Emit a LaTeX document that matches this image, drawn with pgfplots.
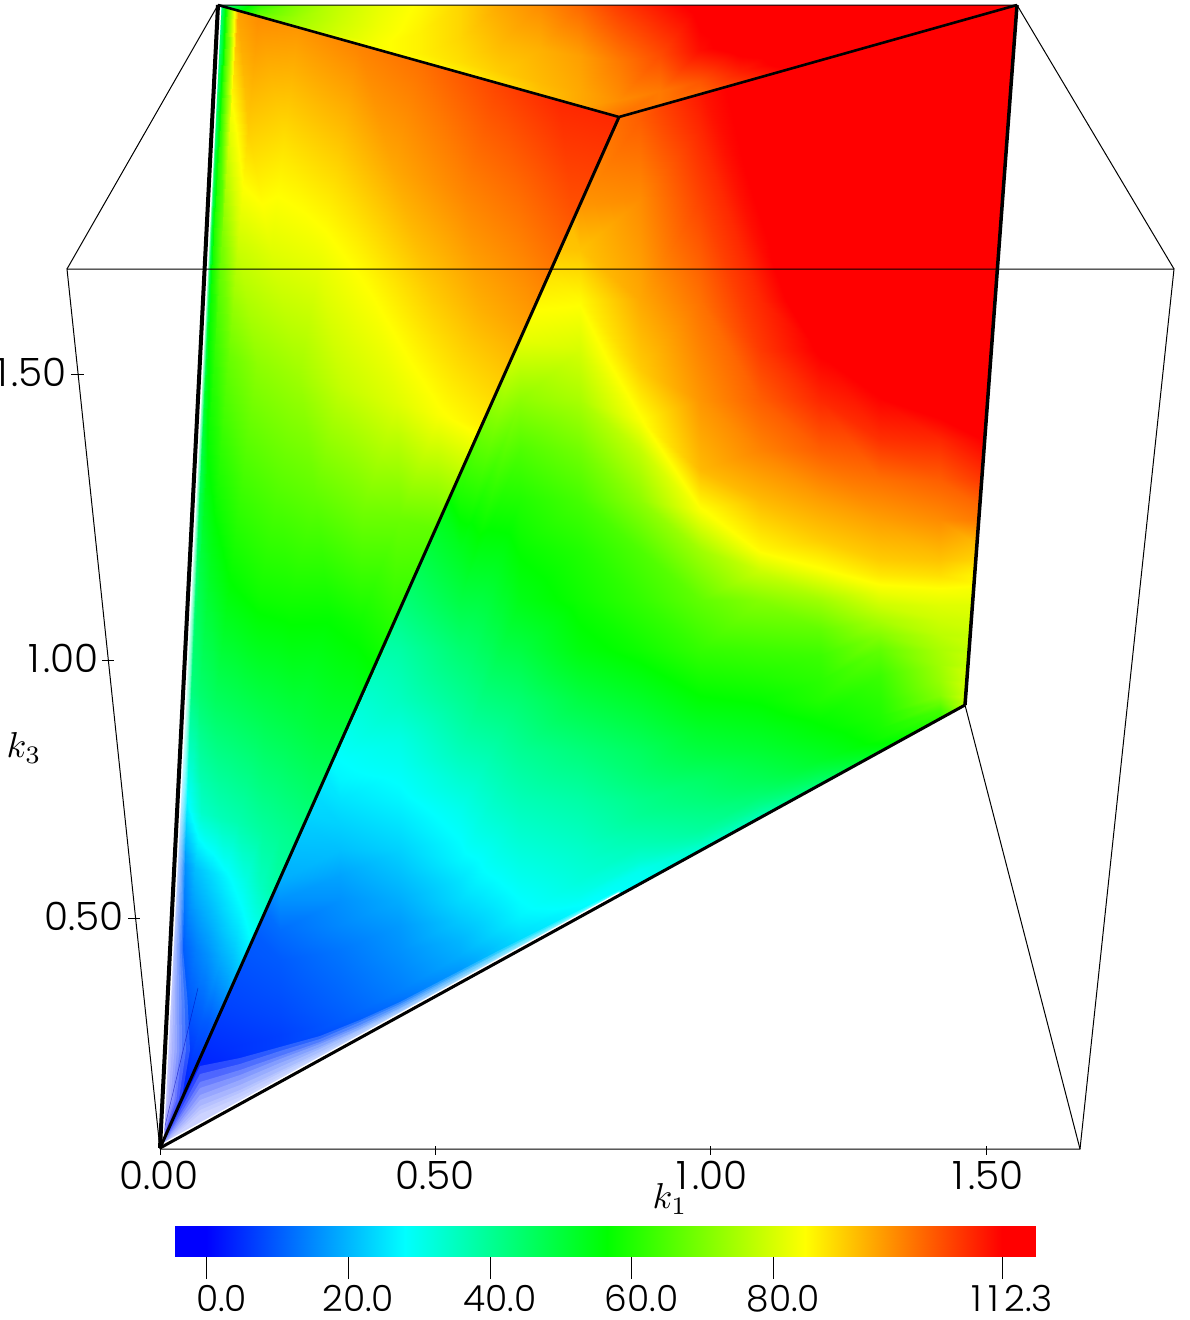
\documentclass[border=0pt]{standalone}
\usepackage{fontspec}
\setmainfont{Poppins Light}
\usepackage{pgfplots}
\usepackage{pgfplotstable}
\pgfplotsset{compat=1.18}
\pgfplotsset{colormap={mapw}{rgb255(0pt)=(255,255,255) rgb255(30pt)=(0,0,255) rgb255(58pt)=(0,255,255) rgb255(86.5pt)=(0,255,0) rgb255(114.5pt)=(255,255,0) rgb255(142.3pt)=(255,0,0) rgb255(150pt)=(255,0,0)}}
\pgfplotstableread{
x y v
160 1150 3
160 1140 3
160 1130 3
160 1120 3
160 1100 3
160 1080 3
160 1060 3
160 1040 4
160 1000 6
160 950 8
160 900 10
160 850 13
160 800 16
160 750 20
160 700 25
160 650 30
160 600 35
160 500 45
160 400 55
160 300 70
160 150 85
160 -5 95
220 1118 4
220 1112 4
220 1105 4
220 1095 4
220 1085 4
220 1070 4
220 1050 5
220 1030 6
220 1010 7
220 950 9
220 900 10
220 850 13
220 800 16
220 750 20
220 700 25
220 650 30
220 600 35
220 500 45
220 400 55
220 300 70
220 150 85
220 -5 95
280 1085 6
280 1079 6
280 1072 6
280 1062 6
280 1055 6
280 1048 7
280 1035 7
280 1015 8
280 990 9
280 960 10
280 930 12
280 900 16
280 880 19
280 800 24
280 750 26
280 700 28
280 650 32
280 600 36
280 500 45
280 400 55
280 300 70
280 -5 95
340 1052 8
340 1046 8
340 1040 8
340 1034 8
340 1029 9
340 1020 10
340 1000 11
340 975 12
340 950 13
340 925 15
340 900 16
340 875 18
340 850 21
340 825 23
340 800 25
340 780 27
340 760 28
340 744 29
340 600 40
340 450 55
340 300 70
340 -5 95
400 1019 12
400 1013 12
400 1007 12
400 1003 12
400 997 13
400 990 14
400 970 15
400 950 16
400 925 17
400 900 19
400 875 21
400 850 23
400 825 25
400 800 27
400 770 29
400 740 31
400 700 35
400 650 38
400 609 42
400 400 58
400 250 75
400 -5 95
460 986 17
460 981 17
460 977 17
460 973 17
460 968 17
460 955 19
460 940 20
460 920 22
460 900 24
460 880 25
460 860 27
460 840 28
460 810 30
460 780 33
460 750 36
460 700 40
460 650 44
460 600 49
460 550 53
460 500 59
460 474 62
460 -5 95
520 953 23
520 947 23
520 940 24
520 930 25
520 915 27
520 900 28
520 875 30
520 850 32
520 825 34
520 800 36
520 750 40
520 700 44
520 650 49
520 600 54
520 550 57
520 500 60
520 450 65
520 400 72
520 339 82
520 250 90
520 100 95
520 -5 98
580 920 26
580 914 27
580 905 28
580 895 30
580 880 32
580 865 33
580 850 34
580 825 36
580 800 38
580 750 43
580 700 49
580 650 55
580 600 58
580 550 60
580 500 64
580 450 69
580 400 75
580 350 80
580 300 85
580 250 91
580 205 96
580 -5 100
640 887 28
640 880 29
640 870 30
640 860 33
640 845 36
640 830 38
640 815 40
640 800 41
640 775 44
640 750 46
640 700 52
640 650 58
640 600 62
640 550 65
640 500 72
640 450 78
640 420 84
640 370 90
640 300 94
640 200 97
640 120 102
640 -5 100
700 854 30
700 846 34
700 838 37
700 830 39
700 815 41
700 800 43
700 780 45
700 755 49
700 730 52
700 700 56
700 675 59
700 650 62
700 600 67
700 550 74
700 510 84
700 470 92
700 400 96
700 300 100
700 200 105
700 130 108
700 90 110
700 -5 112
760 821 34
760 812 38
760 805 41
760 795 44
760 780 47
760 765 49
760 750 51
760 725 54
760 700 57
760 675 60
760 650 63
760 600 71
760 570 79
760 550 85
760 500 92
760 450 98
760 400 102
760 350 106
760 300 108
760 250 111
760 200 113
760 -5 118
820 788 42
820 778 46
820 770 49
820 760 52
820 745 54
820 730 56
820 720 57
820 700 60
820 680 61
820 655 63
820 630 67
820 600 74
820 570 84
820 540 90
820 500 95
820 450 102
820 400 108
820 350 113
820 300 118
820 200 120
820 100 120
820 -5 120
880 755 52
880 745 56
880 738 58
880 728 59
880 715 60
880 700 61
880 675 63
880 650 67
880 635 71
880 620 75
880 605 79
880 590 83
880 575 87
880 560 90
880 520 95
880 480 100
880 440 107
880 400 112
880 350 117
880 250 120
880 100 120
880 -5 120
940 722 60
940 716 62
940 710 64
940 702 68
940 695 71
940 680 73
940 665 74
940 650 75
940 635 77
940 620 79
940 605 81
940 590 84
940 575 88
940 560 91
940 520 97
940 480 102
940 440 108
940 400 116
940 350 118
940 250 120
940 100 120
940 -5 120
1000 730 90
1000 720 90
1000 710 90
1000 700 90
1000 690 88
1000 680 86
1000 665 82
1000 650 80
1000 635 79
1000 620 80
1000 605 81
1000 590 83
1000 575 84
1000 560 88
1000 520 100
1000 480 108
1000 440 114
1000 400 118
1000 350 118
1000 250 120
1000 100 120
1000 -5 120
1060 730 90
1060 720 90
1060 710 90
1060 700 90
1060 690 88
1060 680 86
1060 665 82
1060 650 80
1060 635 79
1060 620 80
1060 605 81
1060 590 83
1060 575 84
1060 560 88
1060 520 100
1060 480 108
1060 440 114
1060 400 118
1060 350 118
1060 250 120
1060 100 120
1060 -5 120
}\rightface
\pgfplotstableread{
t s v
0 0 0
0 0.01 0
0 0.025 0
0 0.05 0
0 0.1 0
0 0.2 0
0 0.35 0
0 0.5 0
0 0.7 0
0 0.85 0
0 1 0
0.03 0 0
0.03 0.01 0
0.03 0.025 0
0.03 0.05 0
0.03 0.1 0
0.03 0.2 0
0.03 0.35 0
0.03 0.5 1
0.03 0.7 1
0.03 0.85 2
0.03 1 2
0.07 0 0
0.07 0.01 0
0.07 0.025 0
0.07 0.05 0
0.07 0.1 1
0.07 0.2 2
0.07 0.35 3
0.07 0.5 4
0.07 0.7 4
0.07 0.85 5
0.07 1 5
0.12 0 1
0.12 0.01 1
0.12 0.025 2
0.12 0.05 3
0.12 0.1 4
0.12 0.2 6
0.12 0.35 8
0.12 0.5 9
0.12 0.7 10
0.12 0.85 10
0.12 1 11
0.18 0 3
0.18 0.01 4
0.18 0.025 5
0.18 0.05 6
0.18 0.1 8
0.18 0.2 11
0.18 0.35 14
0.18 0.5 16
0.18 0.7 19
0.18 0.85 21
0.18 1 24
0.25 0 8
0.25 0.01 9
0.25 0.025 10
0.25 0.05 12
0.25 0.1 16
0.25 0.2 21
0.25 0.35 24
0.25 0.5 27
0.25 0.7 31
0.25 0.85 35
0.25 1 38
0.3 0 12
0.3 0.01 14
0.3 0.025 19
0.3 0.05 24
0.3 0.1 28
0.3 0.2 34
0.3 0.35 36
0.3 0.5 37
0.3 0.7 39
0.3 0.85 40
0.3 1 41
0.4 0 18
0.4 0.01 24
0.4 0.025 36
0.4 0.05 42
0.4 0.1 44
0.4 0.2 46
0.4 0.35 47
0.4 0.5 48
0.4 0.7 49
0.4 0.85 50
0.4 1 50
0.5 0 20
0.5 0.01 30
0.5 0.025 42
0.5 0.05 48
0.5 0.1 52
0.5 0.2 56
0.5 0.35 58
0.5 0.5 58
0.5 0.7 57
0.5 0.85 58
0.5 1 60
0.6 0 22
0.6 0.01 36
0.6 0.025 48
0.6 0.05 56
0.6 0.1 60
0.6 0.2 64
0.6 0.35 66
0.6 0.5 67
0.6 0.7 69
0.6 0.85 68
0.6 1 67
0.7 0 24
0.7 0.01 40
0.7 0.025 56
0.7 0.05 62
0.7 0.1 68
0.7 0.2 72
0.7 0.35 74
0.7 0.5 78
0.7 0.7 81
0.7 0.85 84
0.7 1 86
0.8 0 25
0.8 0.01 45
0.8 0.025 60
0.8 0.05 70
0.8 0.1 79
0.8 0.2 81
0.8 0.35 82
0.8 0.5 85
0.8 0.7 90
0.8 0.85 93
0.8 1 95
0.9 0 25
0.9 0.01 45
0.9 0.025 62
0.9 0.05 82
0.9 0.1 90
0.9 0.2 88
0.9 0.35 90
0.9 0.5 94
0.9 0.7 98
0.9 0.85 100
0.9 1 103
1 0 25
1 0.01 45
1 0.025 66
1 0.05 95
1 0.1 97
1 0.2 96
1 0.35 98
1 0.5 100
1 0.7 105
1 0.85 108
1 1 108
}\leftface
\pgfplotstableread{
x y v
218 5 40
260 5 62
300 5 72
340 5 78
380 5 82
420 5 85
460 5 89
500 5 94
540 5 97
580 5 101
619 5 106
660 5 110
700 5 114
740 5 116
800 5 118
900 5 118
1017 5 118
218 5 40
260 10.8 66
300 16.5 74
340 22 79
380 27.5 83
420 33 86
460 39 89
500 44 92
540 50 93
580 55.5 95
619 61 99
660 55 104
700 49.5 111
740 44 115
800 35.5 118
900 21.5 118
1017 5 118
218 5 40
260 15 68
300 24.6 75
340 34 80
380 43 84
420 52.6 86
460 62 88
500 72 90
540 81.7 92
580 91 94
619 100 97
660 90.5 99
700 80.7 103
740 71 109
800 57 116
900 33 118
1017 5 118
218 5 40
260 16.7 70
300 27.9 78
340 39 82
380 50 84
420 61 85
460 72.6 86
500 83.8 88
540 95 91
580 106 94
619 117 100
660 105.5 99
700 94 101
740 83 106
800 66 114
900 38 118
1017 5 118
}\topface
\pgfplotstableread{
x y v
-4.44 0 0
0 0 0
28 0 28
56.5 0 56.5
84.5 0 84.5
112.3 0 112.3
116.9 0 112.3
-4.44 1 0
0 1 0
28 1 28
56.5 1 56.5
84.5 1 84.5
112.3 1 112.3
116.9 1 112.3
}\barface
\begin{document}
\begin{tikzpicture}
\useasboundingbox (0,0) rectangle (1190pt,1320pt);
\begin{axis}[name=main, at={(0pt,0pt)}, anchor=south west, hide axis, scale only axis, width=1190pt, height=1320pt,
  xmin=0, xmax=1190, ymin=0, ymax=1320, y dir=reverse, clip=false,
  colormap name=mapw, point meta min=-30, point meta max=120,
  fr/.style={draw=none, fill=white, fill opacity=.17}]
\begin{scope}
\clip (axis cs:160,1148) -- (axis cs:619,117) -- (axis cs:1017,5) -- (axis cs:965,705) -- cycle;
\addplot[surf, shader=interp, mesh/rows=22, mesh/cols=16, mesh/ordering=y varies, mesh/check=false, point meta=\thisrow{v}] table[x=x, y=y] {\rightface};
\end{scope}
\addplot[surf, shader=interp, mesh/rows=14, mesh/cols=11, mesh/check=false, point meta=\thisrow{v}] table[x expr={160+\thisrow{t}*(58+401*\thisrow{s})}, y expr={1148-\thisrow{t}*(1143-112*\thisrow{s})}] {\leftface};
\addplot[surf, shader=interp, mesh/rows=4, mesh/cols=17, mesh/check=false, point meta=\thisrow{v}] table[x=x, y=y] {\topface};
% pale fringe along the lower edge of the right face
\addplot[fr] coordinates {(160,1148) (200,1066) (240,1058) (280,1047) (320,1036) (360,1020) (400,1002) (500,950) (620,890) (620,895) (160,1148)};
\addplot[fr] coordinates {(160,1148) (200,1074) (240,1064) (280,1051) (320,1039) (360,1022) (400,1004) (500,952) (620,891) (620,895) (160,1148)};
\addplot[fr] coordinates {(160,1148) (200,1082) (240,1070) (280,1056) (320,1042) (360,1025) (400,1006) (500,953) (620,892) (620,895) (160,1148)};
\addplot[fr] coordinates {(160,1148) (200,1088) (240,1075) (280,1059) (320,1044) (360,1027) (400,1008) (500,955) (620,892) (620,895) (160,1148)};
\addplot[fr] coordinates {(160,1148) (200,1095) (240,1080) (280,1063) (320,1047) (360,1029) (400,1009) (500,956) (620,893) (620,895) (160,1148)};
\addplot[fr] coordinates {(160,1148) (200,1100) (240,1085) (280,1067) (320,1049) (360,1030) (400,1011) (500,957) (620,893) (620,895) (160,1148)};
\addplot[fr] coordinates {(160,1148) (200,1106) (240,1090) (280,1071) (320,1052) (360,1032) (400,1012) (500,958) (620,894) (620,895) (160,1148)};
\addplot[fr] coordinates {(160,1148) (200,1110) (240,1093) (280,1073) (320,1054) (360,1034) (400,1013) (500,959) (620,894) (620,895) (160,1148)};
\addplot[fr] coordinates {(160,1148) (200,1114) (240,1097) (280,1076) (320,1056) (360,1035) (400,1014) (500,960) (620,895) (160,1148)};
% pale fringe along the left edge of the left face
\addplot[fr] coordinates {(160,1148) (181.4,1100) (190,1050) (187.5,1000) (183,950) (185,850) (190.7,700) (199.4,500) (213,200) (221,5) (218,5) (160,1148)};
\addplot[fr] coordinates {(160,1148) (178.9,1100) (186,1050) (184.5,1000) (181.5,950) (184,850) (190.2,700) (198.9,500) (212.6,200) (220.7,5) (218,5) (160,1148)};
\addplot[fr] coordinates {(160,1148) (176.4,1100) (182,1050) (181.5,1000) (180,950) (183,850) (189.7,700) (198.4,500) (212.2,200) (220.5,5) (218,5) (160,1148)};
\addplot[fr] coordinates {(160,1148) (174.4,1100) (179.5,1050) (179,1000) (178.5,950) (182,850) (189.2,700) (197.9,500) (211.9,200) (220.2,5) (218,5) (160,1148)};
\addplot[fr] coordinates {(160,1148) (172.4,1100) (177,1050) (176.5,1000) (177,950) (181,850) (188.7,700) (197.4,500) (211.6,200) (220,5) (218,5) (160,1148)};
\addplot[fr] coordinates {(160,1148) (170.4,1100) (174.5,1050) (175,1000) (175.8,950) (180.2,850) (188.2,700) (197.2,500) (211.3,200) (219.9,5) (218,5) (160,1148)};
\addplot[fr] coordinates {(160,1148) (168.4,1100) (172,1050) (173.5,1000) (174.5,950) (179.5,850) (187.7,700) (196.9,500) (211,200) (219.8,5) (218,5) (160,1148)};
\addplot[fr] coordinates {(160,1148) (167.2,1100) (170.5,1050) (172.2,1000) (173.8,950) (178.8,850) (187.2,700) (196.7,500) (210.8,200) (219.7,5) (218,5) (160,1148)};
\addplot[fr] coordinates {(160,1148) (165.9,1100) (169,1050) (171,1000) (173,950) (178,850) (186.7,700) (196.4,500) (210.5,200) (219.5,5) (218,5) (160,1148)};
% faint inner line
\addplot[no markers, blue!70!black, line width=0.5pt, opacity=.6] coordinates {(160,1147) (198,988)};
% white gap next to the heavy edges
\addplot[no markers, white, line width=7pt] coordinates {(160,1148) (218,5)};
\addplot[no markers, white, line width=6pt] coordinates {(160,1148) (620,895)};
% box
\addplot[no markers, black, line width=1pt] coordinates {(160,1149) (67,269) (1174,269) (1080,1149) (160,1149)};
\addplot[no markers, black, line width=1pt] coordinates {(67,269) (218,5) (1017,5) (1174,269)};
\addplot[no markers, black, line width=1pt] coordinates {(1080,1149) (965,705)};
% thick edges
\addplot[no markers, black, line width=4pt] coordinates {(160,1148) (218,5)};
\addplot[no markers, black, line width=3pt] coordinates {(160,1148) (619,117)};
\addplot[no markers, black, line width=3pt] coordinates {(160,1148) (965,705)};
\addplot[no markers, black, line width=3.5pt] coordinates {(965,705) (1017,5)};
\addplot[no markers, black, line width=2.6pt] coordinates {(218,5) (619,117) (1017,5)};
% ticks
\addplot[no markers, black, line width=.8pt] coordinates {(71,374) (84,374)};
\addplot[no markers, black, line width=.8pt] coordinates {(102,660) (114,660)};
\addplot[no markers, black, line width=.8pt] coordinates {(128,918) (140,918)};
\addplot[no markers, black, line width=.8pt] coordinates {(160,1146) (160,1155)};
\addplot[no markers, black, line width=.8pt] coordinates {(435.5,1146) (435.5,1155)};
\addplot[no markers, black, line width=.8pt] coordinates {(710.5,1146) (710.5,1155)};
\addplot[no markers, black, line width=.8pt] coordinates {(986.6,1146) (986.6,1155)};
\node[font=\fontsize{39}{41}\selectfont, inner sep=0pt] at (axis cs:159,1175) {0.00};
\node[font=\fontsize{39}{41}\selectfont, inner sep=0pt] at (axis cs:435,1175) {0.50};
\node[font=\fontsize{39}{41}\selectfont, inner sep=0pt] at (axis cs:712,1175) {1\kern4pt.00};
\node[font=\fontsize{39}{41}\selectfont, inner sep=0pt] at (axis cs:988,1175) {1\kern4pt.50};
\node[font=\fontsize{39}{41}\selectfont, inner sep=0pt, anchor=east] at (axis cs:67,372) {1\kern4pt.50};
\node[font=\fontsize{39}{41}\selectfont, inner sep=0pt, anchor=east] at (axis cs:99,658) {1\kern4pt.00};
\node[font=\fontsize{39}{41}\selectfont, inner sep=0pt, anchor=east] at (axis cs:124,916) {0.50};
\node[scale=3.6, inner sep=0pt] at (axis cs:670,1199) {$k_1$};
\node[scale=3.6, inner sep=0pt] at (axis cs:24,748) {$k_3$};
\end{axis}
\begin{axis}[at={(175pt,63pt)}, anchor=south west, scale only axis, width=860pt, height=31pt,
  xmin=-4.44, xmax=116.9, ymin=0, ymax=1, ytick=\empty, axis line style={draw=none},
  xtick={0,20,40,60,80,112.3}, xtick pos=bottom, tick align=outside,
  major tick length=26pt, tick style={black, line width=.7pt, yshift=4pt},
  xticklabels={\hspace{10pt}0.0,20.0,40.0,60.0,80.0,1\kern6pt 1\kern6pt 2.3},
  xticklabel style={font=\fontsize{36}{38}\selectfont, xshift=10pt, inner sep=0pt, yshift=-2pt},
  colormap name=mapw, point meta min=-30, point meta max=120]
\addplot[surf, shader=interp, mesh/rows=2, mesh/cols=7, mesh/check=false, point meta=\thisrow{v}] table[x=x, y=y] {\barface};
\end{axis}
\end{tikzpicture}
\end{document}
